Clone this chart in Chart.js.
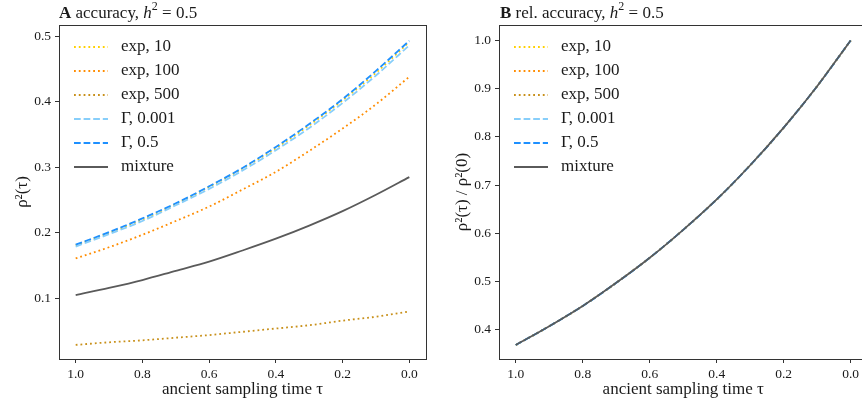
<!DOCTYPE html>
<html>
<head>
<meta charset="utf-8">
<script src="https://cdn.jsdelivr.net/npm/chart.js@4.4.0/dist/chart.umd.min.js"></script>
<style>
  body { margin: 0; background: #fff; width: 862px; height: 400px; overflow: hidden; position: relative; font-family: "Liberation Serif", serif; color: #1a1a1a; }
  canvas { position: absolute; top: 0; }
  #chartA { left: 0; }
  #chartB { left: 431px; }
  .title { position: absolute; top: 4px; font-size: 17px; line-height: 17px; white-space: nowrap; }
  .title sup { font-size: 12px; line-height: 0; position: relative; top: -1px; }
</style>
</head>
<body>
<canvas id="chartA" width="431" height="400"></canvas>
<canvas id="chartB" width="440" height="400"></canvas>
<div class="title" style="left:59px"><b>A</b> accuracy, <i>h</i><sup>2</sup> = 0.5</div>
<div class="title" style="left:500px"><b>B</b> rel. accuracy, <i>h</i><sup>2</sup> = 0.5</div>
<script>
// dados
const tauPoints = [1.0, 0.9, 0.8, 0.7, 0.6, 0.5, 0.4, 0.3, 0.2, 0.1, 0.0];
const seriesLabels = ["exp, 10", "exp, 100", "exp, 500", "Γ, 0.001", "Γ, 0.5", "mixture"];

const accExp10     = [0.181, 0.200, 0.220, 0.244, 0.270, 0.298, 0.329, 0.364, 0.402, 0.444, 0.491];
const accExp100    = [0.161, 0.178, 0.197, 0.218, 0.240, 0.266, 0.293, 0.325, 0.359, 0.396, 0.438];
const accExp500    = [0.029, 0.033, 0.036, 0.040, 0.044, 0.049, 0.054, 0.059, 0.066, 0.072, 0.080];
const accGamma001  = [0.179, 0.198, 0.218, 0.242, 0.267, 0.295, 0.326, 0.360, 0.398, 0.440, 0.486];
const accGamma05   = [0.182, 0.201, 0.222, 0.245, 0.271, 0.299, 0.331, 0.366, 0.404, 0.447, 0.493];
const accMixture   = [0.105, 0.116, 0.128, 0.142, 0.156, 0.173, 0.191, 0.211, 0.233, 0.258, 0.285];

// painel B: todas as curvas coincidem
const relAccuracy  = [0.368, 0.407, 0.449, 0.497, 0.549, 0.607, 0.670, 0.741, 0.819, 0.905, 1.000];

const xTicks  = [1.0, 0.8, 0.6, 0.4, 0.2, 0.0];
const yTicksA = [0.1, 0.2, 0.3, 0.4, 0.5];
const yTicksB = [0.4, 0.5, 0.6, 0.7, 0.8, 0.9, 1.0];

// estilos
const seriesColors = ["#ffd000", "#ff8c00", "#c8901a", "#87cefa", "#1e90ff", "#5a5a5a"];
const DOT = [1.8, 3.0], DASH = [6.7, 2.9];
const seriesDashes = [DOT, DOT, DOT, DASH, DASH, []];
const TEXT = "#1a1a1a", SPINE = "#333";

const toPoints = vals => vals.map((v, i) => ({ x: tauPoints[i], y: v }));

function buildDatasets(seriesList) {
  return seriesList.map((vals, i) => ({
    label: seriesLabels[i],
    data: toPoints(vals),
    borderColor: seriesColors[i],
    borderWidth: 1.8,
    borderDash: seriesDashes[i],
    pointRadius: 0,
    fill: false,
    cubicInterpolationMode: "monotone",
    order: seriesList.length - i
  }));
}

const legendAndFrame = {
  id: "legendAndFrame",
  afterDatasetsDraw(chart) {
    const { ctx, chartArea } = chart;
    ctx.save();
    seriesLabels.forEach((name, i) => {
      const y = chartArea.top + 22 + i * 24;
      const x0 = chartArea.left + 15;
      ctx.strokeStyle = seriesColors[i];
      ctx.lineWidth = 1.8;
      ctx.setLineDash(seriesDashes[i]);
      ctx.beginPath();
      ctx.moveTo(x0, y);
      ctx.lineTo(x0 + 34, y);
      ctx.stroke();
      ctx.setLineDash([]);
      ctx.fillStyle = TEXT;
      ctx.font = '17px "Liberation Serif"';
      ctx.textBaseline = "middle";
      ctx.fillText(name, x0 + 47, y);
    });
    ctx.strokeStyle = SPINE;
    ctx.lineWidth = 1;
    ctx.strokeRect(chartArea.left + 0.5, chartArea.top + 0.5, chartArea.right - chartArea.left, chartArea.bottom - chartArea.top);
    ctx.restore();
  }
};

function makeChart(canvasId, datasets, yMin, yMax, yTicks, yTitle, yWidth, yTitlePad, padRight) {
  const tickFont = { family: "Liberation Serif", size: 13.5 };
  const labelFont = { family: "Liberation Serif", size: 17 };
  return new Chart(document.getElementById(canvasId), {
    type: "line",
    data: { datasets },
    options: {
      responsive: false,
      animation: false,
      layout: { padding: { top: 25, right: padRight, left: 0, bottom: 0 } },
      plugins: { legend: { display: false }, tooltip: { enabled: false } },
      scales: {
        x: {
          type: "linear",
          reverse: true,
          min: -0.05,
          max: 1.05,
          afterBuildTicks: s => { s.ticks = xTicks.map(v => ({ value: v })); },
          afterFit: s => { s.height = 41; },
          ticks: { font: tickFont, color: TEXT, padding: 3, maxRotation: 0, callback: v => v.toFixed(1) },
          grid: { drawOnChartArea: false, drawTicks: true, tickLength: 4, color: SPINE },
          border: { display: false },
          title: { display: true, text: "ancient sampling time τ", font: labelFont, color: TEXT, padding: { top: 0, bottom: 0 } }
        },
        y: {
          type: "linear",
          min: yMin,
          max: yMax,
          afterBuildTicks: s => { s.ticks = yTicks.map(v => ({ value: v })); },
          afterFit: s => { s.width = yWidth; },
          ticks: { font: tickFont, color: TEXT, padding: 4, callback: v => v.toFixed(1) },
          grid: { drawOnChartArea: false, drawTicks: true, tickLength: 4, color: SPINE },
          border: { display: false },
          title: { display: true, text: yTitle, font: labelFont, color: TEXT, padding: { top: yTitlePad, bottom: 0 } }
        }
      }
    },
    plugins: [legendAndFrame]
  });
}

makeChart("chartA",
  buildDatasets([accExp10, accExp100, accExp500, accGamma001, accGamma05, accMixture]),
  0.0075, 0.517, yTicksA, "ρ²(τ)", 59, 12, 5);

makeChart("chartB",
  buildDatasets([relAccuracy, relAccuracy, relAccuracy, relAccuracy, relAccuracy, relAccuracy]),
  0.339, 1.032, yTicksB, "ρ²(τ) / ρ²(0)", 68, 21, 3.6);
</script>
</body>
</html>
